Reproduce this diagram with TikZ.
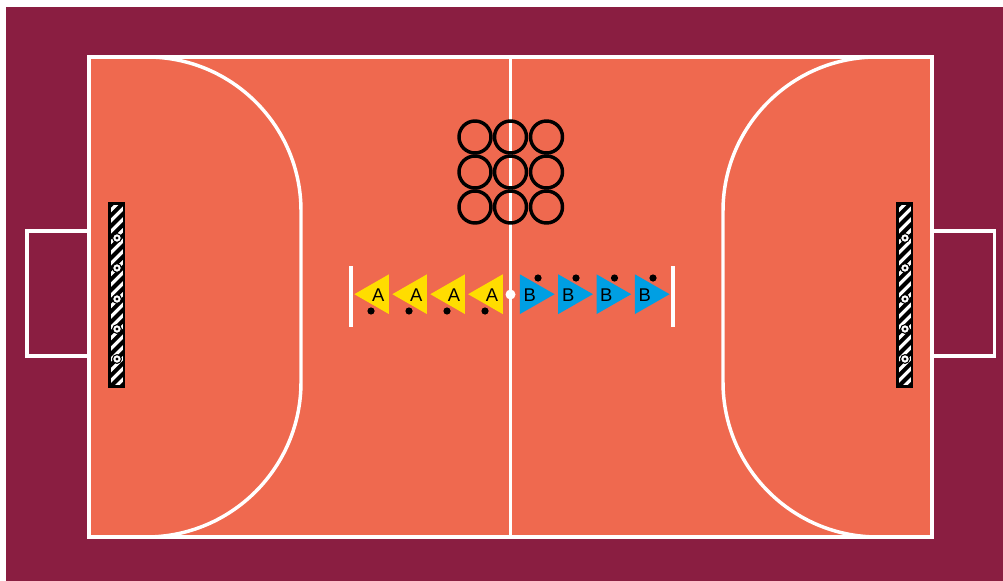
\documentclass[tikz,border=0pt]{standalone}
\usepackage{fontspec}
\setmainfont{Liberation Sans}
\usetikzlibrary{shapes.geometric, positioning, calc}
\definecolor{hallmaroon}{RGB}{138,30,65}
\definecolor{hallorange}{RGB}{239,105,79}
\definecolor{teamyellow}{RGB}{255,221,0}
\definecolor{teamblue}{RGB}{0,159,227}
\begin{document}
\begin{tikzpicture}[x=0.75pt, y=-0.75pt,
  courtline/.style={draw=white, line width=2.6pt},
  hoop/.style={circle, draw=black, line width=2.6pt, minimum size=24pt, inner sep=0pt},
  goalbar/.style={draw=black, line width=2pt, fill=white, minimum width=10.7pt, minimum height=137.5pt, inner sep=0pt,
    path picture={\foreach \k in {-16,...,16} {
      \draw[black, line width=3pt] ($(path picture bounding box.center)+(-12pt,{\k*8pt-12pt})$) -- ++(24pt,24pt);}}},
  ring/.style={circle, draw=black, fill=white, line width=0.8pt, minimum size=6.6pt, inner sep=0pt,
    path picture={\fill[black] (path picture bounding box.center) circle[radius=1.2pt];}},
  teama/.style={isosceles triangle, isosceles triangle stretches, shape border rotate=180, fill=teamyellow, minimum width=29.8pt, minimum height=26pt, inner sep=0pt, anchor=apex},
  teamb/.style={isosceles triangle, isosceles triangle stretches, fill=teamblue, minimum width=29.8pt, minimum height=26pt, inner sep=0pt, anchor=apex},
  puck/.style={circle, fill=black, minimum size=5.4pt, inner sep=0pt},
  tag/.style={font=\fontsize{13.8}{14}\selectfont, text=black, inner sep=0pt}]
  \useasboundingbox (0,0) rectangle (1003,581);
  \fill[hallmaroon] (6,7) rectangle (1003,581);
  % goal areas behind the court
  \draw[courtline] (89,231) -- (27,231) -- (27,356) -- (89,356);
  \draw[courtline] (932,231) -- (994.5,231) -- (994.5,356) -- (932,356);
  % court
  \fill[hallorange] (89,57) rectangle (932,537);
  \draw[courtline] (89,57) rectangle (932,537);
  \draw[courtline] (147,57) arc[start angle=-90, end angle=0, radius=154] -- (301,382) arc[start angle=0, end angle=90, radius=155];
  \draw[courtline] (877,57) arc[start angle=-90, end angle=-180, radius=154] -- (723,382) arc[start angle=180, end angle=90, radius=155];
  \coordinate (midtop) at (510.5,57);
  \coordinate (midbot) at (510.5,537);
  \draw[courtline] (midtop) -- (midbot);
  % hoops
  \node[hoop] (h1) at (475,137) {};
  \node[hoop] (h2) at (510.5,137) {};
  \node[hoop] (h3) at (546.5,137) {};
  \node[hoop] (h4) at (475,172) {};
  \node[hoop] (h5) at (510.5,172) {};
  \node[hoop] (h6) at (546.5,172) {};
  \node[hoop] (h7) at (475,207) {};
  \node[hoop] (h8) at (510.5,207) {};
  \node[hoop] (h9) at (546.5,207) {};
  % start line
  \draw[courtline] (351,266) -- (351,327);
  \draw[courtline] (673,266) -- (673,327);
  \fill[white] (510.5,294.5) circle[radius=5];
  % team A
  \node[teama] (a1) at (353.6,294.2) {};
  \node[teama] (a2) at (391.6,294.2) {};
  \node[teama] (a3) at (429.6,294.2) {};
  \node[teama] (a4) at (467.4,294.2) {};
  \node[tag] at (378.3,295) {A};
  \node[tag] at (416.2,295) {A};
  \node[tag] at (454,295) {A};
  \node[tag] at (492,295) {A};
  \node[puck] at (371,311) {};
  \node[puck] at (409,311) {};
  \node[puck] at (447,311) {};
  \node[puck] at (485,311) {};
  % team B
  \node[teamb] (b1) at (555.3,294.2) {};
  \node[teamb] (b2) at (593.6,294.2) {};
  \node[teamb] (b3) at (631.9,294.2) {};
  \node[teamb] (b4) at (670.3,294.2) {};
  \node[tag] at (529.7,295) {B};
  \node[tag] at (568.2,295) {B};
  \node[tag] at (606.3,295) {B};
  \node[tag] at (644.7,295) {B};
  \node[puck] at (538,278) {};
  \node[puck] at (576,278) {};
  \node[puck] at (614.5,278) {};
  \node[puck] at (653,278) {};
  % goals
  \node[goalbar] (goalL) at (116.7,295) {};
  \node[goalbar] (goalR) at (904.7,295) {};
  \node[ring] at (117,238) {};
  \node[ring] at (117,268) {};
  \node[ring] at (117,299) {};
  \node[ring] at (117,329) {};
  \node[ring] at (117,359) {};
  \node[ring] at (905,238) {};
  \node[ring] at (905,268) {};
  \node[ring] at (905,299) {};
  \node[ring] at (905,329) {};
  \node[ring] at (905,359) {};
\end{tikzpicture}
\end{document}
